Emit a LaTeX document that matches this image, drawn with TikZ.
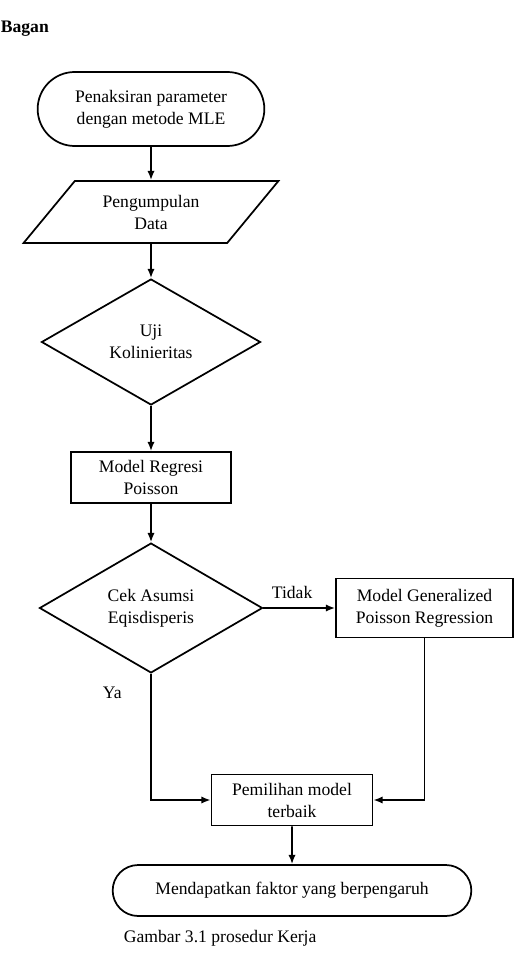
\documentclass[tikz,border=0pt]{standalone}
\usepackage{fontspec}
\setmainfont{Liberation Serif}
\usetikzlibrary{shapes.geometric, shapes.misc, arrows.meta}

\begin{document}
\begin{tikzpicture}[
    x=0.75pt, y=-0.75pt,
    >={Latex[length=7pt,width=5.5pt]},
    line width=1.3pt,
    every node/.style={font=\fontsize{13.2}{16.5}\selectfont},
    terminal/.style={
        draw, rounded rectangle, align=center, inner sep=2pt
    },
    inout/.style={
        draw, trapezium, trapezium left angle=50.6, trapezium right angle=129.4,
        trapezium stretches=true, align=center,
        minimum width=191.25pt, minimum height=46.5pt
    },
    decision/.style={draw, diamond, align=center, inner sep=1pt},
    process/.style={draw, rectangle, align=center, inner sep=2pt}
]

\useasboundingbox (0,0) rectangle (531,959);

% Title
\node[font=\fontsize{13.2}{16.5}\selectfont\bfseries, anchor=west, inner sep=0pt] (judul) at (0,29) {Bagan};

% -------------------------
% Flowchart Steps
% -------------------------

% 1. Start
\node[terminal, minimum width=174pt, minimum height=55.5pt] (mulai) at (151,109) {
    Penaksiran parameter\\dengan metode MLE
};

% 2. Data
\node[inout] (data) at (151,212) {Pengumpulan\\Data};

% 3. Collinearity test
\node[decision, minimum width=164.25pt, minimum height=94.5pt] (uji) at (151,342) {Uji\\Kolinieritas};

% 4. Poisson model
\node[process, minimum width=120pt, minimum height=38.25pt] (poisson) at (151,477.5) {Model Regresi\\Poisson};

% 5. Equidispersion check
\node[decision, minimum width=167.25pt, minimum height=94.5pt] (cek) at (151,608) {Cek Asumsi\\Eqisdisperis};

% 6. GPR (Right)
\node[process, minimum width=132.75pt, minimum height=44.25pt] (gpr) at (424.5,608) {Model Generalized\\Poisson Regression};

% 7. Best model
\node[process, minimum width=120.75pt, minimum height=38.25pt] (pilih) at (292,800) {Pemilihan model\\terbaik};

% 8. End
\node[terminal, minimum width=273pt, minimum height=38.25pt] (hasil) at (292,890.5) {Mendapatkan faktor yang berpengaruh};

% Caption
\node[anchor=west, inner sep=0pt] (caption) at (123,938) {Gambar 3.1 prosedur Kerja};

% -------------------------
% Connections
% -------------------------

\draw[->] (mulai) -- (data);
\draw[->] (data) -- (uji);
\draw[->] (uji) -- (poisson);
\draw[->] (poisson) -- (cek);

% cek -> gpr (Tidak)
\draw[->] (cek) -- (gpr)
    node[pos=0.4, above=3pt] {Tidak};

% cek -> pilih (Ya)
\draw[->] (cek.south) |- (pilih.west)
    node[pos=0.075, left=18pt] {Ya};

% gpr -> pilih
\draw[->] (gpr.south) |- (pilih.east);

\draw[->] (pilih) -- (hasil);

\end{tikzpicture}
\end{document}
